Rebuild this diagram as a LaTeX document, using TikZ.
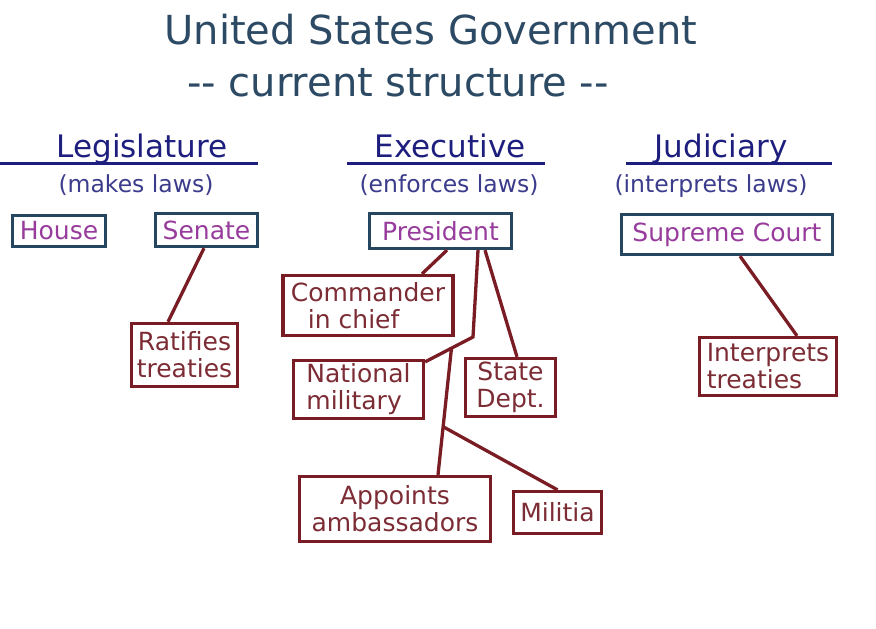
\documentclass[tikz,border=0pt]{standalone}
\usepackage{fontspec}
\setmainfont{DejaVu Sans}
\usetikzlibrary{calc}
\definecolor{titlec}{HTML}{2C4A64}
\definecolor{headc}{HTML}{1E1E7E}
\definecolor{subc}{HTML}{3C3C8C}
\definecolor{bluebox}{HTML}{264660}
\definecolor{purp}{HTML}{973C9C}
\definecolor{redb}{HTML}{7A1C24}
\definecolor{redt}{HTML}{7C2C34}
\begin{document}
\begin{tikzpicture}[x=1pt,y=-1pt,
  titletxt/.style={text=titlec,inner sep=0pt,anchor=base,font=\fontsize{40}{44}\selectfont},
  headtxt/.style={text=headc,inner sep=0pt,anchor=base,font=\fontsize{31}{34}\selectfont},
  subtxt/.style={text=subc,inner sep=0pt,anchor=base,font=\fontsize{23.5}{26}\selectfont},
  uline/.style={draw=headc,line width=3pt},
  bbox/.style={draw=bluebox,line width=3.3pt,text=purp,inner sep=0pt,font=\fontsize{25}{28}\selectfont},
  rbox/.style={draw=redb,line width=3.3pt,text=redt,inner sep=0pt,align=center,font=\fontsize{25}{27}\selectfont},
  link/.style={draw=redb,line width=3.3pt}]
\useasboundingbox[fill=white] (0,0) rectangle (876,629);

% titles
\node[titletxt] (t1) at (431,44) {United States Government};
\node[titletxt] (t2) at (398,96) {{-}{-} current structure {-}{-}};

% headings
\node[headtxt] (leg) at (142,157) {Legislature};
\node[headtxt] (exe) at (450,157) {Executive};
\node[headtxt] (jud) at (721,157) {Judiciary};
\coordinate (l1) at (0,163);   \coordinate (l2) at (258,163);
\coordinate (e1) at (347,163); \coordinate (e2) at (545,163);
\coordinate (u1) at (626,163); \coordinate (u2) at (832,163);
\draw[uline] (l1) -- (l2);
\draw[uline] (e1) -- (e2);
\draw[uline] (u1) -- (u2);
\node[subtxt] (legs) at (136,192) {(makes laws)};
\node[subtxt] (exes) at (449,192) {(enforces laws)};
\node[subtxt] (juds) at (711,192) {(interprets laws)};

% blue boxes
\node[bbox,minimum width=93pt,minimum height=31pt] (house) at (59,231) {House};
\node[bbox,minimum width=102pt,minimum height=33pt] (sen) at (206.5,230) {Senate};
\node[bbox,minimum width=142pt,minimum height=35pt] (pres) at (440.5,231) {President};
\node[bbox,minimum width=211pt,minimum height=40pt] (sc) at (727,234.5) {Supreme Court};

% red boxes
\node[rbox,minimum width=106pt,minimum height=63pt] (rat) at (184.5,355) {Ratifies\\treaties};
\node[rbox,minimum width=170pt,minimum height=60pt,align=left] (cmd) at (368,305.5) {Commander\\\hspace*{17pt}in chief};
\node[rbox,minimum width=130pt,minimum height=58pt,align=left] (nat) at (358.5,389.5) {National\\military};
\node[rbox,minimum width=90pt,minimum height=58pt] (state) at (510.5,387.5) {State\\Dept.};
\node[rbox,minimum width=191pt,minimum height=65pt] (app) at (395,509) {Appoints\\ambassadors};
\node[rbox,minimum width=88pt,minimum height=42pt] (mil) at (557.5,512.5) {Militia};
\node[rbox,minimum width=137pt,minimum height=58pt,align=left] (int) at (768,366.5) {Interprets\\treaties};

% connectors
\draw[link] ([xshift=-2.5pt]sen.south) -- ([xshift=-16.5pt]rat.north);
\draw[link] ([xshift=13pt]sc.south) -- ([xshift=29pt]int.north);
\draw[link] ([xshift=6.5pt]pres.south) -- ([xshift=54pt]cmd.north);
\draw[link] ([xshift=44.5pt]pres.south) -- ([xshift=6.5pt]state.north);
\coordinate (j1) at (473,337);
\coordinate (natc) at ([yshift=-3pt]nat.north east);
\draw[link] ([xshift=37.5pt]pres.south) -- (j1) -- (natc);
\coordinate (j2) at ($(j1)!0.45!(natc)$);
\coordinate (appt) at ([xshift=43pt]app.north);
\draw[link] (j2) -- (appt);
\coordinate (j3) at ($(j2)!0.62!(appt)$);
\draw[link] (j3) -- (mil.north);
\end{tikzpicture}
\end{document}
